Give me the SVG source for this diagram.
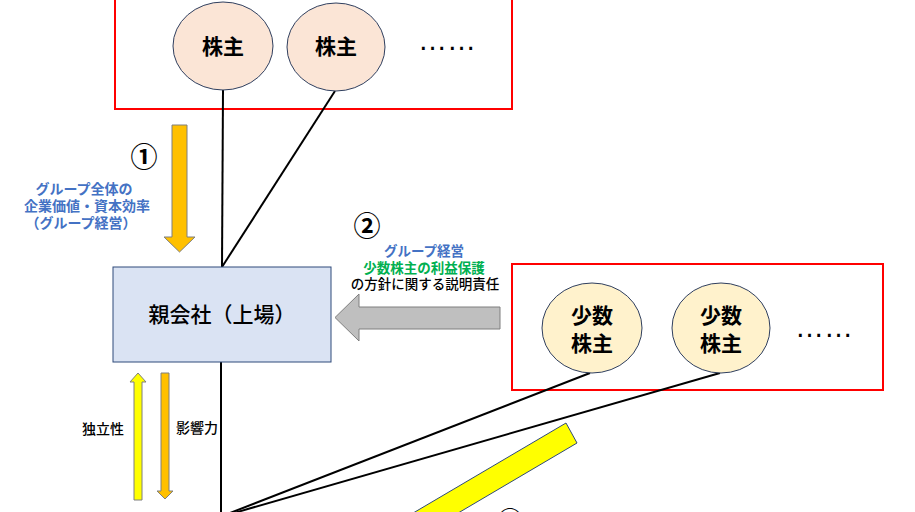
<svg xmlns="http://www.w3.org/2000/svg" width="915" height="512" viewBox="0 0 915 512">
<style>
text{font-family:"Noto Sans CJK JP","Noto Sans CJK SC",sans-serif;dominant-baseline:central;text-anchor:middle}
.frame{fill:none;stroke:#FF0000;stroke-width:2}
.sh{fill:#FBE5D6;stroke:#2F3F5F;stroke-width:1}
.ms{fill:#FFF2CC;stroke:#2F3F5F;stroke-width:1}
.nt{font-size:21px;font-weight:bold;fill:#000}
.ln{stroke:#000;stroke-width:2;fill:none}
.lb{font-size:14px;font-weight:bold}
.num{font-size:27px;font-weight:bold;fill:#000}
.dots{font-family:"Liberation Sans",sans-serif;font-size:29px;text-anchor:start}
</style>
<g id="frames">
<rect class="frame" x="115" y="-10" width="397" height="119"/>
<rect class="frame" x="512" y="264" width="371" height="126"/>
</g>
<g id="connectors">
<line class="ln" x1="223" y1="90" x2="222" y2="267"/>
<line class="ln" x1="335" y1="91" x2="222" y2="267"/>
<line class="ln" x1="221" y1="362" x2="221" y2="515"/>
<line class="ln" x1="590" y1="373" x2="230" y2="513"/>
<line class="ln" x1="720" y1="373" x2="234" y2="513"/>
</g>
<g id="shareholder1">
<ellipse class="sh" cx="223" cy="46" rx="50" ry="44"/>
<text class="nt" x="223" y="45">株主</text>
</g>
<g id="shareholder2">
<ellipse class="sh" cx="336" cy="47" rx="49" ry="44"/>
<text class="nt" x="336" y="45">株主</text>
</g>
<g id="dots1"><text class="dots" x="418" y="40">……</text></g>
<g id="parent">
<rect x="113" y="267" width="218" height="95" fill="#DAE3F3" stroke="#2F4A7A" stroke-width="1"/>
<text x="222" y="313" style="font-size:21px;font-weight:500">親会社（上場）</text>
</g>
<g id="minority1">
<ellipse class="ms" cx="592" cy="328" rx="50" ry="45"/>
<text class="nt" x="592" y="314">少数</text>
<text class="nt" x="592" y="342">株主</text>
</g>
<g id="minority2">
<ellipse class="ms" cx="721" cy="328" rx="49" ry="45"/>
<text class="nt" x="721" y="314">少数</text>
<text class="nt" x="721" y="342">株主</text>
</g>
<g id="dots2"><text class="dots" x="795" y="327">……</text></g>
<g id="arrow1">
<polygon points="172,125 187,125 187,237 195,237 179.5,252 164,237 172,237" fill="#FFC000" stroke="#7F7F7F" stroke-width="1"/>
<text class="num" x="144" y="155">①</text>
<text class="lb" x="84" y="188" fill="#4472C4">グループ全体の</text>
<text class="lb" x="87" y="205" fill="#4472C4">企業価値・資本効率</text>
<text class="lb" x="81" y="222" fill="#4472C4">（グループ経営）</text>
</g>
<g id="arrow2">
<polygon points="500,307 359,307 359,294 335,317.5 359,341 359,329 500,329" fill="#BFBFBF" stroke="#7F7F7F" stroke-width="1"/>
<text class="num" x="367" y="224">②</text>
<text x="424" y="250" style="font-size:13.5px;font-weight:bold" fill="#4472C4">グループ経営</text>
<text x="424" y="267" style="font-size:13.5px;font-weight:bold" fill="#00B050">少数株主の利益保護</text>
<text x="425" y="283" style="font-size:13.5px;font-weight:500" fill="#000">の方針に関する説明責任</text>
</g>
<g id="independence">
<polygon points="134,500 142,500 142,382 146,382 138,373 130,382 134,382" fill="#FFFF00" stroke="#7F7F7F" stroke-width="1"/>
<text x="103" y="428" style="font-size:14px;font-weight:500">独立性</text>
</g>
<g id="influence">
<polygon points="161,373 169,373 169,491 173,491 165,499 157,491 161,491" fill="#FFC000" stroke="#7F7F7F" stroke-width="1"/>
<text x="197" y="427" style="font-size:14px;font-weight:500">影響力</text>
</g>
<g id="arrow3">
<polygon points="566,423 577,443 431,529 386,529" fill="#FFFF00" stroke="#2F4A7A" stroke-width="1"/>
<text class="num" x="510" y="520">③</text>
</g>
</svg>
